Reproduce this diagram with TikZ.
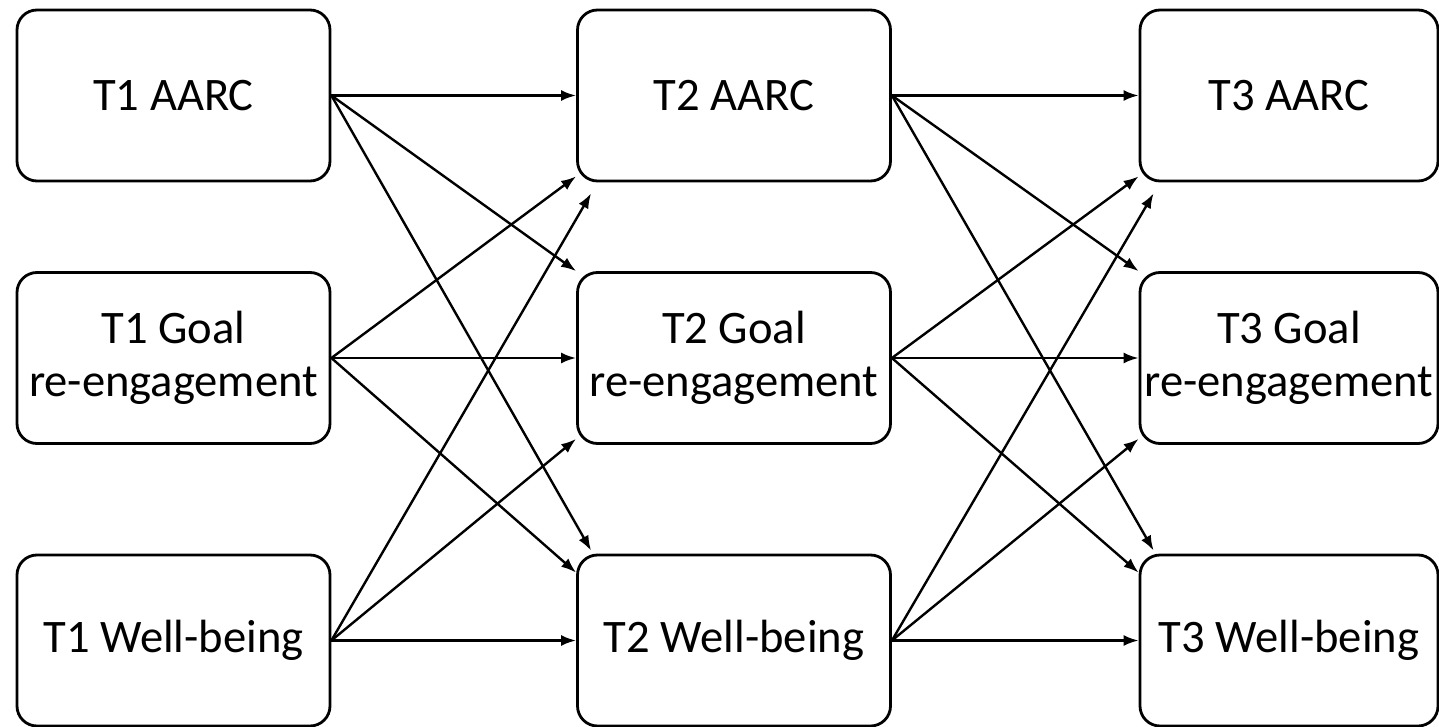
\documentclass[tikz,border=0pt]{standalone}
\usepackage{fontspec}
\setmainfont{Carlito}
\usetikzlibrary{arrows.meta,positioning}

\begin{document}
\begin{tikzpicture}[on grid,auto,
    var/.style={draw, line width=1.4pt, rounded corners=10pt, minimum width=156.5pt,
                minimum height=85.5pt, align=center, inner sep=0pt,
                font=\fontsize{23.3}{26.5}\selectfont},
    narrow/.style={var, minimum width=149pt},
    path/.style={-{Latex[length=7.5pt,width=5.5pt]}, line width=1.2pt}]
   \useasboundingbox (0,0) rectangle (719.5pt,-363.5pt);
   % time 1
   \node[var] (t1aarc) at (86.75pt,-47.75pt) {T1 AARC};
   \node[var] (t1goal) [below=131.25pt of t1aarc] {T1 Goal\\re-engagement};
   \node[var] (t1wb)   [below=141.25pt of t1goal] {T1 Well-being};
   % time 2
   \node[var] (t2aarc) [right=280.25pt of t1aarc] {T2 AARC};
   \node[var] (t2goal) [right=280.25pt of t1goal] {T2 Goal\\re-engagement};
   \node[var] (t2wb)   [right=280.25pt of t1wb]   {T2 Well-being};
   % time 3
   \node[narrow] (t3aarc) [right=277.5pt of t2aarc] {T3 AARC};
   \node[narrow] (t3goal) [right=277.5pt of t2goal] {T3 Goal\\re-engagement};
   \node[narrow] (t3wb)   [right=277.5pt of t2wb]   {T3 Well-being};

   \foreach \a/\b in {t1/t2, t2/t3} {
    \path[path]
    (\a aarc.east) edge (\b aarc.west)
                   edge (\b goal.north west)
                   edge ([xshift=7.5pt,yshift=1.5pt]\b wb.north west)
    (\a goal.east) edge ([yshift=3pt]\b aarc.south west)
                   edge (\b goal.west)
                   edge ([yshift=-9.5pt]\b wb.north west)
    (\a wb.east)   edge ([xshift=7.5pt,yshift=-5.5pt]\b aarc.south west)
                   edge ([yshift=3pt]\b goal.south west)
                   edge (\b wb.west);
   }
\end{tikzpicture}
\end{document}
